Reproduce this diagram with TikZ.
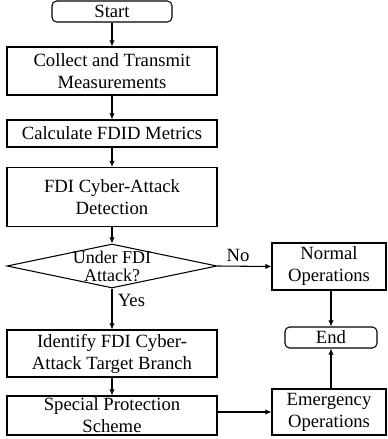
\documentclass[tikz,border=0pt]{standalone}
\usepackage{fontspec}
\setmainfont{Liberation Serif}
\usetikzlibrary{shapes.geometric,arrows.meta}

\tikzset{
  procbox/.style={draw, line width=0.8pt, minimum width=157.5pt, align=center, inner sep=1pt, font=\fontsize{14}{16.5}\selectfont},
  termbox/.style={procbox, rounded corners=3.5pt, minimum height=15.75pt},
  sidebox/.style={procbox, minimum width=85.5pt},
  decbox/.style={draw, line width=0.8pt, diamond, shape aspect=5, inner sep=0pt, minimum width=157.5pt, minimum height=33pt, font=\fontsize{13.5}{14.3}\selectfont},
  flow/.style={line width=0.8pt, -{Latex[length=4.5pt,width=4pt]}}
}

\begin{document}
\begin{tikzpicture}[x=0.75pt,y=0.75pt,yscale=-1,xscale=1]
\useasboundingbox (0,0) rectangle (388,439);

%Shape: Rounded Rect
\node[termbox, minimum width=90pt] (start) at (112,11.5) {Start};
%Shape: Rectangle
\node[procbox, minimum height=36pt] (collect) at (112,71) {Collect and Transmit\\Measurements};
%Shape: Rectangle
\node[procbox, minimum height=20.25pt] (calc) at (112,133.5) {Calculate FDID Metrics};
%Shape: Rectangle
\node[procbox, minimum height=44.25pt] (detect) at (112,197) {FDI Cyber-Attack\\Detection};
%Shape: Diamond
\node[decbox] (decide) at (112,266) {\smash{\raisebox{-5.5pt}{\begin{tabular}{@{}c@{}}Under FDI\\[-1pt]Attack?\end{tabular}}}};
%Shape: Rectangle
\node[procbox, minimum height=35.25pt] (ident) at (112,353.5) {Identify FDI Cyber-\\Attack Target Branch};
%Shape: Rectangle
\node[procbox, minimum height=29.25pt] (spc) at (112,415.5) {Special Protection\\Scheme};
%Shape: Rectangle
\node[sidebox, minimum height=35.25pt] (normal) at (329,266.5) {Normal\\Operations};
%Shape: Rounded Rect
\node[termbox, minimum width=69pt] (endn) at (331,337.5) {End};
%Shape: Rectangle
\node[sidebox, minimum height=34.5pt] (emg) at (329,412) {Emergency\\Operations};

%Straight Lines
\draw[flow] (start) -- (collect);
\draw[flow] (collect) -- (calc);
\draw[flow] (calc) -- (detect);
\draw[flow] (detect) -- (decide);
\draw[flow] (decide.east) -- (normal.west) node[above, pos=0.38, font=\fontsize{14}{16.5}\selectfont] {No};
\draw[flow] (decide.south) -- (ident.north) node[right, pos=0.28, inner sep=4pt, font=\fontsize{14}{16.5}\selectfont] {Yes};
\draw[flow] (ident) -- (spc);
\draw[flow] (spc.east |- emg.west) -- (emg.west);
\draw[flow] (endn.north |- normal.south) -- (endn.north);
\draw[flow] (endn.south |- emg.north) -- (endn.south);

\end{tikzpicture}
\end{document}
